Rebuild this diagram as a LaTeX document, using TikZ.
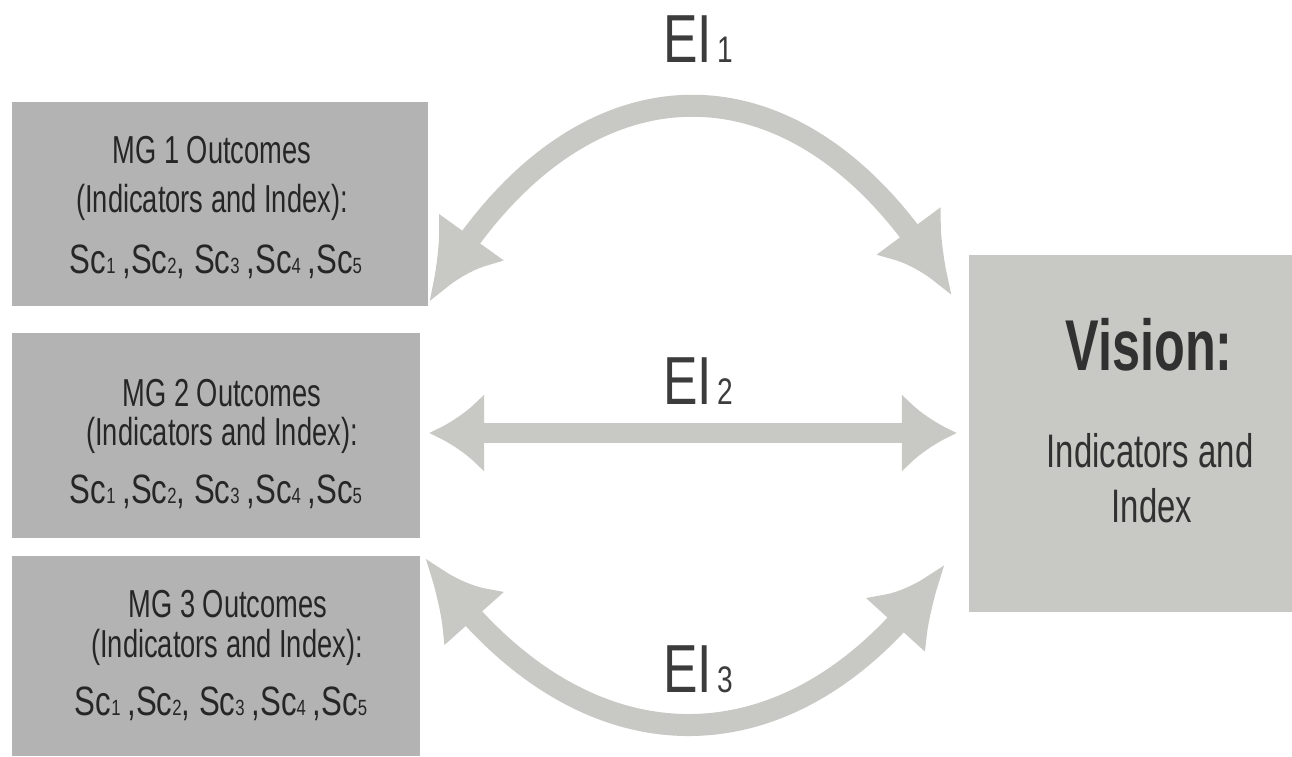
\documentclass[tikz,border=0pt]{standalone}
\usepackage{fontspec}
\setmainfont[FakeStretch=0.76]{Liberation Sans}
\newfontfamily\narrowfont[FakeStretch=0.70]{Liberation Sans}
\usetikzlibrary{arrows.meta,calc,bending}
\definecolor{mgfill}{HTML}{B3B3B3}
\definecolor{visfill}{HTML}{C8C8C4}
\definecolor{arrowcol}{HTML}{C8C9C4}
\definecolor{ink}{HTML}{262626}
\newcommand\fs[1]{\fontsize{#1}{#1}\selectfont}
\newcommand\subn[1]{{\fs{22}#1}}
\newcommand\scline{Sc\subn{1}\,,Sc\subn{2}, Sc\subn{3}\,,Sc\subn{4}\,,Sc\subn{5}}
\begin{document}
\begin{tikzpicture}[x=1pt,y=-1pt,
  mgbox/.style={fill=mgfill,draw=none,inner sep=0pt},
  visbox/.style={fill=visfill,draw=none,inner sep=0pt},
  boxtext/.style={anchor=base,inner sep=0pt,text=ink,font=\narrowfont\fs{39}},
  sctext/.style={anchor=base,inner sep=0pt,text=ink,font=\fs{41}},
  vistext/.style={anchor=base,inner sep=0pt,text=ink!95,font=\narrowfont\fs{47}},
  eilabel/.style={anchor=base,inner sep=0pt,text=ink!90,font=\fs{68}},
  straightarrow/.style={draw=arrowcol,line width=20pt,
    {Latex[length=55pt,width=80pt]}-{Latex[length=55pt,width=80pt]}},
  curvearrow/.style={draw=arrowcol,line width=22pt,
    {Latex[length=82pt,width=80pt,bend]}-{Latex[length=82pt,width=80pt,bend]}}]
\useasboundingbox (0,0) rectangle (1292,756);
\fill[white] (0,0) rectangle (1292,756);

% outcome boxes and vision box
\node[mgbox,minimum width=416pt,minimum height=204pt] (mg1) at (220,204) {};
\node[mgbox,minimum width=408pt,minimum height=205pt] (mg2) at (216,435.5) {};
\node[mgbox,minimum width=408pt,minimum height=200pt] (mg3) at (216,656) {};
\node[visbox,minimum width=323pt,minimum height=357pt] (vision) at (1130.5,433.5) {};

% box texts
\node[boxtext] (mg1a) at (212,163) {MG 1 Outcomes};
\node[boxtext] (mg1b) at (212,212) {(Indicators and Index):};
\node[sctext]  (mg1c) at (216,273) {\scline};
\node[boxtext] (mg2a) at (222,406) {MG 2 Outcomes};
\node[boxtext] (mg2b) at (222,445) {(Indicators and Index):};
\node[sctext]  (mg2c) at (216,503) {\scline};
\node[boxtext] (mg3a) at (228,617) {MG 3 Outcomes};
\node[boxtext] (mg3b) at (227,657) {(Indicators and Index):};
\node[sctext]  (mg3c) at (221,715) {\scline};
\node[anchor=base,inner sep=0pt,text=ink!95,font=\narrowfont\fs{72}\bfseries] (vtitle) at (1149,370) {Vision:};
\node[vistext] (vline1) at (1150,467) {Indicators and};
\node[vistext] (vline2) at (1152,522) {Index};

% arrow end points
\coordinate (a1s) at ($(mg1.south east)+(1,-3)$);
\coordinate (a1e) at ($(vision.north west)+(-17,42)$);
\coordinate (a2s) at ($(mg2.east)+(9,-2.5)$);
\coordinate (a2e) at ($(vision.west)+(-12,-0.5)$);
\coordinate (a3s) at ($(mg3.north east)+(5,1)$);
\coordinate (a3e) at ($(vision.south west)+(-24,-49)$);

% two-way arrows
\draw[curvearrow] (a1s) .. controls +(143,-262) and +(-143,-256) .. (a1e);
\draw[straightarrow] (a2s) -- (a2e);
\draw[curvearrow] (a3s) .. controls +(151,223) and +(-147,217) .. (a3e);

% arrow labels
\node[eilabel] (ei1) at (698,62) {EI\hspace{5pt}{\fs{37}1}};
\node[eilabel] (ei2) at (698,404) {EI\hspace{5pt}{\fs{37}2}};
\node[eilabel] (ei3) at (698,692) {EI\hspace{5pt}{\fs{37}3}};
\end{tikzpicture}
\end{document}
